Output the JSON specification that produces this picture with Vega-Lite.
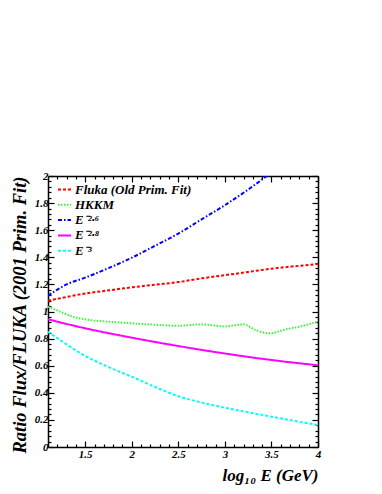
{
  "$schema": "https://vega.github.io/schema/vega-lite/v6.json",
  "width": 270,
  "height": 271,
  "autosize": {"type": "none"},
  "padding": {"left": 48, "top": 176, "right": 64, "bottom": 47},
  "background": "white",
  "config": {
    "font": "Liberation Serif",
    "view": {"stroke": null},
    "axis": {
      "grid": false,
      "domainColor": "black",
      "domainWidth": 1.5,
      "tickColor": "black",
      "tickWidth": 1.2,
      "labelColor": "black",
      "titleColor": "black",
      "labelFont": "Liberation Serif",
      "labelFontStyle": "italic",
      "labelFontWeight": "bold",
      "labelFontSize": 11,
      "titleFont": "Liberation Serif",
      "titleFontStyle": "italic",
      "titleFontWeight": "bold",
      "titleFontSize": 17,
      "labelFlush": false,
      "labelOverlap": false
    }
  },
  "data": {
    "values": [
      {"series": "Fluka (Old Prim. Fit)", "logE": 1.1, "ratio": 1.08},
      {"series": "Fluka (Old Prim. Fit)", "logE": 1.3, "ratio": 1.107},
      {"series": "Fluka (Old Prim. Fit)", "logE": 1.5, "ratio": 1.133},
      {"series": "Fluka (Old Prim. Fit)", "logE": 1.75, "ratio": 1.156},
      {"series": "Fluka (Old Prim. Fit)", "logE": 2.0, "ratio": 1.178},
      {"series": "Fluka (Old Prim. Fit)", "logE": 2.25, "ratio": 1.198},
      {"series": "Fluka (Old Prim. Fit)", "logE": 2.5, "ratio": 1.217},
      {"series": "Fluka (Old Prim. Fit)", "logE": 2.75, "ratio": 1.245},
      {"series": "Fluka (Old Prim. Fit)", "logE": 3.0, "ratio": 1.268},
      {"series": "Fluka (Old Prim. Fit)", "logE": 3.25, "ratio": 1.292},
      {"series": "Fluka (Old Prim. Fit)", "logE": 3.5, "ratio": 1.316},
      {"series": "Fluka (Old Prim. Fit)", "logE": 3.75, "ratio": 1.334},
      {"series": "Fluka (Old Prim. Fit)", "logE": 4.0, "ratio": 1.35},
      {"series": "HKKM", "logE": 1.1, "ratio": 1.035},
      {"series": "HKKM", "logE": 1.2, "ratio": 1.008},
      {"series": "HKKM", "logE": 1.3, "ratio": 0.978},
      {"series": "HKKM", "logE": 1.4, "ratio": 0.956},
      {"series": "HKKM", "logE": 1.5, "ratio": 0.942},
      {"series": "HKKM", "logE": 1.75, "ratio": 0.925},
      {"series": "HKKM", "logE": 2.0, "ratio": 0.913},
      {"series": "HKKM", "logE": 2.25, "ratio": 0.902},
      {"series": "HKKM", "logE": 2.5, "ratio": 0.895},
      {"series": "HKKM", "logE": 2.75, "ratio": 0.905},
      {"series": "HKKM", "logE": 3.0, "ratio": 0.89},
      {"series": "HKKM", "logE": 3.2, "ratio": 0.905},
      {"series": "HKKM", "logE": 3.33, "ratio": 0.863},
      {"series": "HKKM", "logE": 3.48, "ratio": 0.839},
      {"series": "HKKM", "logE": 3.66, "ratio": 0.869},
      {"series": "HKKM", "logE": 3.8, "ratio": 0.888},
      {"series": "HKKM", "logE": 4.0, "ratio": 0.925},
      {"series": "E⁻²·⁶", "logE": 1.1, "ratio": 1.117},
      {"series": "E⁻²·⁶", "logE": 1.3, "ratio": 1.2},
      {"series": "E⁻²·⁶", "logE": 1.5, "ratio": 1.25},
      {"series": "E⁻²·⁶", "logE": 1.75, "ratio": 1.32},
      {"series": "E⁻²·⁶", "logE": 2.0, "ratio": 1.397},
      {"series": "E⁻²·⁶", "logE": 2.25, "ratio": 1.485},
      {"series": "E⁻²·⁶", "logE": 2.5, "ratio": 1.575},
      {"series": "E⁻²·⁶", "logE": 2.75, "ratio": 1.68},
      {"series": "E⁻²·⁶", "logE": 3.0, "ratio": 1.785},
      {"series": "E⁻²·⁶", "logE": 3.25, "ratio": 1.9},
      {"series": "E⁻²·⁶", "logE": 3.45, "ratio": 2.0},
      {"series": "E⁻²·⁶", "logE": 3.5, "ratio": 2.025},
      {"series": "E⁻²·⁸", "logE": 1.1, "ratio": 0.942},
      {"series": "E⁻²·⁸", "logE": 1.5, "ratio": 0.876},
      {"series": "E⁻²·⁸", "logE": 2.0, "ratio": 0.807},
      {"series": "E⁻²·⁸", "logE": 2.5, "ratio": 0.745},
      {"series": "E⁻²·⁸", "logE": 3.0, "ratio": 0.69},
      {"series": "E⁻²·⁸", "logE": 3.5, "ratio": 0.642},
      {"series": "E⁻²·⁸", "logE": 4.0, "ratio": 0.603},
      {"series": "E⁻³", "logE": 1.1, "ratio": 0.851},
      {"series": "E⁻³", "logE": 1.25, "ratio": 0.78},
      {"series": "E⁻³", "logE": 1.5, "ratio": 0.672},
      {"series": "E⁻³", "logE": 1.75, "ratio": 0.59},
      {"series": "E⁻³", "logE": 2.0, "ratio": 0.519},
      {"series": "E⁻³", "logE": 2.25, "ratio": 0.443},
      {"series": "E⁻³", "logE": 2.5, "ratio": 0.375},
      {"series": "E⁻³", "logE": 2.75, "ratio": 0.328},
      {"series": "E⁻³", "logE": 3.0, "ratio": 0.29},
      {"series": "E⁻³", "logE": 3.25, "ratio": 0.256},
      {"series": "E⁻³", "logE": 3.5, "ratio": 0.224},
      {"series": "E⁻³", "logE": 3.75, "ratio": 0.192},
      {"series": "E⁻³", "logE": 4.0, "ratio": 0.162}
    ]
  },
  "layer": [
    {
      "mark": {"type": "line", "strokeWidth": 2, "clip": true, "interpolate": "monotone"},
      "encoding": {
        "x": {
          "field": "logE", "type": "quantitative",
          "scale": {"domain": [1.1, 4], "nice": false, "zero": false},
          "axis": {
            "orient": "bottom",
            "values": [1.5, 2, 2.5, 3, 3.5, 4],
            "format": "~g",
            "tickSize": -6,
            "labelPadding": 7,
            "title": "log₁₀ E (GeV)",
            "titleAnchor": "end",
            "titlePadding": 8
          }
        },
        "y": {
          "field": "ratio", "type": "quantitative",
          "scale": {"domain": [0, 2], "nice": false, "zero": true},
          "axis": {
            "orient": "left",
            "values": [0, 0.2, 0.4, 0.6, 0.8, 1, 1.2, 1.4, 1.6, 1.8, 2],
            "format": "~g",
            "tickSize": -6,
            "labelPadding": 6,
            "title": "Ratio Flux/FLUKA (2001 Prim. Fit)",
            "titleAnchor": "end",
            "titleFontSize": 18.5,
            "titlePadding": 5
          }
        },
        "color": {
          "field": "series", "type": "nominal",
          "scale": {
            "domain": ["Fluka (Old Prim. Fit)", "HKKM", "E⁻²·⁶", "E⁻²·⁸", "E⁻³"],
            "range": ["#ff0000", "#33ff33", "#0000ff", "#ff00ff", "#00ffff"]
          },
          "legend": {
            "title": null, "orient": "none", "legendX": 9, "legendY": 6,
            "symbolType": "stroke", "symbolSize": 169, "symbolStrokeWidth": 2,
            "labelFont": "Liberation Serif", "labelFontStyle": "italic", "labelFontWeight": "bold",
            "labelFontSize": 13, "labelColor": "black", "labelOffset": 3, "rowPadding": 0.3, "padding": 0
          }
        },
        "strokeDash": {
          "field": "series", "type": "nominal",
          "scale": {
            "domain": ["Fluka (Old Prim. Fit)", "HKKM", "E⁻²·⁶", "E⁻²·⁸", "E⁻³"],
            "range": [[3, 2], [1.5, 1.5], [4, 2, 1.5, 2], [1, 0], [3, 2]]
          },
          "legend": {
            "title": null, "orient": "none", "legendX": 9, "legendY": 6,
            "symbolType": "stroke", "symbolSize": 169, "symbolStrokeWidth": 2,
            "labelFont": "Liberation Serif", "labelFontStyle": "italic", "labelFontWeight": "bold",
            "labelFontSize": 13, "labelColor": "black", "labelOffset": 3, "rowPadding": 0.3, "padding": 0
          }
        }
      }
    },
    {
      "mark": {"type": "point", "opacity": 0},
      "encoding": {
        "x": {"field": "logE", "type": "quantitative",
          "axis": {"orient": "bottom", "values": [1.2,1.3,1.4,1.6,1.7,1.8,1.9,2.1,2.2,2.3,2.4,2.6,2.7,2.8,2.9,3.1,3.2,3.3,3.4,3.6,3.7,3.8,3.9],
            "tickSize": -3, "labels": false, "domain": false, "title": null}},
        "y": {"field": "ratio", "type": "quantitative",
          "axis": {"orient": "left", "values": [0.04,0.08,0.12,0.16,0.24,0.28,0.32,0.36,0.44,0.48,0.52,0.56,0.64,0.68,0.72,0.76,0.84,0.88,0.92,0.96,1.04,1.08,1.12,1.16,1.24,1.28,1.32,1.36,1.44,1.48,1.52,1.56,1.64,1.68,1.72,1.76,1.84,1.88,1.92,1.96],
            "tickSize": -3, "labels": false, "domain": false, "title": null}}
      }
    },
    {
      "mark": {"type": "point", "opacity": 0},
      "encoding": {
        "x": {"field": "logE", "type": "quantitative",
          "axis": {"orient": "top", "values": [1.5, 2, 2.5, 3, 3.5, 4], "tickSize": -6, "labels": false, "title": null}},
        "y": {"field": "ratio", "type": "quantitative",
          "axis": {"orient": "right", "values": [0, 0.2, 0.4, 0.6, 0.8, 1, 1.2, 1.4, 1.6, 1.8, 2], "tickSize": -6, "labels": false, "title": null}}
      }
    },
    {
      "mark": {"type": "point", "opacity": 0},
      "encoding": {
        "x": {"field": "logE", "type": "quantitative",
          "axis": {"orient": "top", "values": [1.2,1.3,1.4,1.6,1.7,1.8,1.9,2.1,2.2,2.3,2.4,2.6,2.7,2.8,2.9,3.1,3.2,3.3,3.4,3.6,3.7,3.8,3.9],
            "tickSize": -3, "labels": false, "domain": false, "title": null}},
        "y": {"field": "ratio", "type": "quantitative",
          "axis": {"orient": "right", "values": [0.04,0.08,0.12,0.16,0.24,0.28,0.32,0.36,0.44,0.48,0.52,0.56,0.64,0.68,0.72,0.76,0.84,0.88,0.92,0.96,1.04,1.08,1.12,1.16,1.24,1.28,1.32,1.36,1.44,1.48,1.52,1.56,1.64,1.68,1.72,1.76,1.84,1.88,1.92,1.96],
            "tickSize": -3, "labels": false, "domain": false, "title": null}}
      }
    }
  ],
  "resolve": {"axis": {"x": "independent", "y": "independent"}}
}
